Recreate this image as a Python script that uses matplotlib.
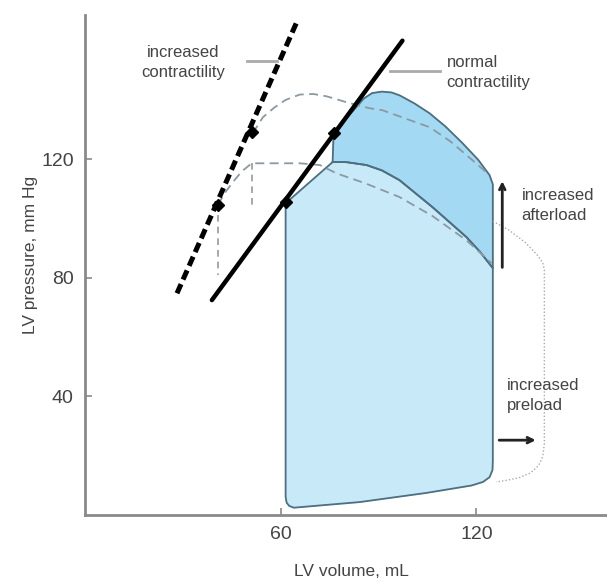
import matplotlib.pyplot as plt

plt.rcParams['font.family'] = ['Liberation Sans', 'DejaVu Sans']

# normal pressure-volume loop (volume mL, pressure mmHg)
normal_v = [61.5, 61.5, 61.8, 62.6, 64.0, 84.2, 104.7, 118.5, 122.0, 124.0,
            124.9, 125.0, 125.0, 121.0, 116.9, 106.5, 96.4, 91.0, 86.3, 80.0,
            75.9, 61.5]
normal_p = [105.1, 6.0, 4.0, 2.9, 2.3, 4.2, 7.3, 9.8, 11.0, 12.6,
            15.0, 18.0, 83.2, 88.8, 93.7, 103.8, 112.9, 116.2, 118.0, 119.0,
            119.0, 105.1]

# increased afterload band (above the normal loop)
after_v = [75.9, 76.2, 85.5, 88.0, 91.0, 94.0, 96.5, 101.0, 105.6, 110.5,
           115.7, 120.5, 124.0, 125.0,
           125.0, 121.0, 116.9, 106.5, 96.4, 91.0, 86.3, 80.0, 75.9]
after_p = [119.0, 128.8, 140.5, 142.3, 142.8, 142.5, 141.5, 138.8, 135.5, 131.0,
           125.4, 119.8, 114.6, 111.5,
           83.2, 88.8, 93.7, 103.8, 112.9, 116.2, 118.0, 119.0, 119.0]

# end-systolic pressure-volume relations
espvr_v = [38.9, 97.3]
espvr_p = [72.4, 160.0]
espvr_hi_v = [28.2, 65.0]
espvr_hi_p = [74.7, 166.5]
es_v = [61.5, 76.2]
es_p = [105.5, 128.8]
es_hi_v = [40.7, 51.3]
es_hi_p = [104.5, 129.0]

# increased contractility loops (dashed)
dash_up_v = [51.4, 54.5, 58.0, 61.5, 65.8, 70.0, 74.1, 80.2, 87.2, 91.2,
             98.0, 105.6, 112.0, 118.8, 124.0]
dash_up_p = [128.7, 134.1, 137.4, 140.0, 141.8, 142.0, 141.2, 139.2, 137.2, 136.5,
             133.8, 130.8, 126.0, 119.6, 114.6]
dash_lo_v = [40.7, 43.0, 45.3, 48.0, 51.1, 65.8, 72.0, 77.1, 86.0, 96.4,
             106.5, 116.9, 124.6]
dash_lo_p = [104.5, 108.8, 112.2, 115.8, 118.6, 118.6, 118.0, 115.2, 111.8, 107.2,
             100.8, 92.6, 84.9]
vert1_v = [40.7, 40.7]
vert1_p = [101.0, 81.0]
vert2_v = [51.1, 51.1]
vert2_p = [118.6, 103.8]

# increased preload loop (dotted)
pre_v = [125.0, 130.0, 135.0, 138.5, 140.3, 140.8, 140.8, 140.3, 139.0, 136.5,
         133.0, 129.0, 126.0]
pre_p = [99.0, 96.0, 91.8, 87.8, 85.0, 82.5, 24.0, 19.5, 16.5, 14.0,
         12.4, 11.5, 11.0]

fig = plt.figure(figsize=(6.07, 5.85), dpi=100)
ax = fig.add_axes([0.14, 0.1205, 0.86, 0.8535])
ax.set_xlim(0, 160)
ax.set_ylim(0, 168.6)

edge = '#4d6f80'
ax.fill(normal_v, normal_p, color='#c8e9f8', zorder=1)
ax.plot(normal_v, normal_p, color=edge, lw=1.3, zorder=2)
ax.fill(after_v, after_p, color='#a3d9f2', zorder=1)
ax.plot(after_v, after_p, color=edge, lw=1.3, zorder=2)

ax.plot(dash_up_v, dash_up_p, color='#8a9aa2', lw=1.3, ls=(0, (5, 3)), zorder=3)
ax.plot(dash_lo_v, dash_lo_p, color='#8a9aa2', lw=1.3, ls=(0, (5, 3)), zorder=3)
ax.plot(vert1_v, vert1_p, color='#9a9a9a', lw=1.2, ls=(0, (4, 3)), zorder=3)
ax.plot(vert2_v, vert2_p, color='#9a9a9a', lw=1.2, ls=(0, (4, 3)), zorder=3)
ax.plot(pre_v, pre_p, color='#aaaaaa', lw=1.0, ls=(0, (1, 1.5)), zorder=3)

ax.plot(espvr_v, espvr_p, color='black', lw=3.2, solid_capstyle='round', zorder=4)
ax.plot(espvr_hi_v, espvr_hi_p, color='black', lw=3.6, ls=(0, (2.0, 1.0)), zorder=4)
ax.plot(es_v, es_p, 'D', color='black', ms=6.5, zorder=5)
ax.plot(es_hi_v, es_hi_p, 'D', color='black', ms=6.5, zorder=5)

# annotations
ax.plot([49.6, 58.8], [153.3, 153.3], color='#aaaaaa', lw=2)
ax.plot([93.4, 108.7], [149.7, 149.7], color='#aaaaaa', lw=2)
ax.text(30, 152.7, 'increased\ncontractility', ha='center', va='center',
        fontsize=12, color='#444444', linespacing=1.4)
ax.text(110.8, 149.3, 'normal\ncontractility', ha='left', va='center',
        fontsize=12, color='#444444', linespacing=1.4)
ax.text(133.8, 104.4, 'increased\nafterload', ha='left', va='center',
        fontsize=12, color='#444444', linespacing=1.4)
ax.text(129.2, 40.3, 'increased\npreload', ha='left', va='center',
        fontsize=12, color='#444444', linespacing=1.4)
ax.annotate('', xy=(127.9, 113.5), xytext=(127.9, 82.5),
            arrowprops=dict(arrowstyle='->', color='#222222', lw=2))
ax.annotate('', xy=(139.0, 25.1), xytext=(126.1, 25.1),
            arrowprops=dict(arrowstyle='->', color='#222222', lw=2))

for s in ['top', 'right']:
    ax.spines[s].set_visible(False)
for s in ['left', 'bottom']:
    ax.spines[s].set_color('#8a8a8a')
    ax.spines[s].set_linewidth(2)
ax.set_xticks([60, 120])
ax.set_yticks([40, 80, 120])
ax.tick_params(direction='in', length=5, width=1.2, color='#8a8a8a',
               labelsize=14, labelcolor='#444444', pad=8)
ax.set_xlabel('LV volume, mL', fontsize=12.5, color='#444444')
ax.set_ylabel('LV pressure, mm Hg', fontsize=12.5, color='#444444')
ax.xaxis.set_label_coords(0.51, -0.1)
ax.yaxis.set_label_coords(-0.09, 0.52)

fig.savefig('out.png', dpi=100)
